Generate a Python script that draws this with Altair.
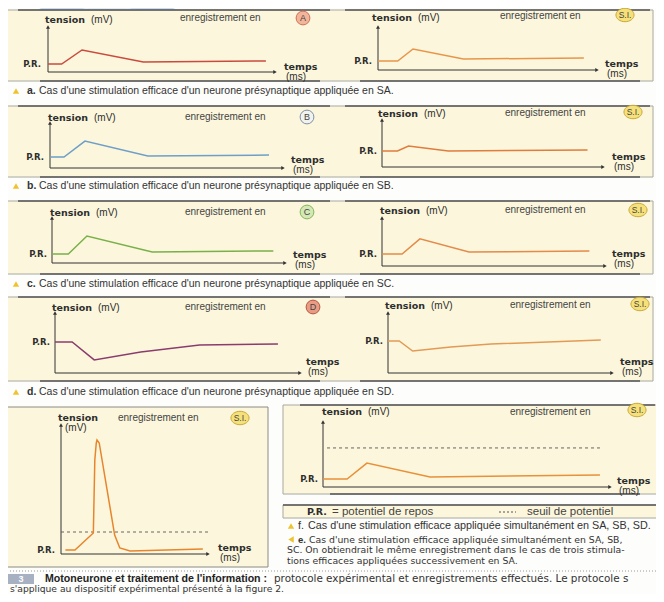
import altair as alt
import pandas as pd

FONT = "Liberation Sans"
BOLD_FONT = "DejaVu Sans"
O = 8          # page margin of the embedding page
PR = -70       # potentiel de repos (mV)
SEUIL = -55    # seuil de potentiel (mV)

# ---------------- data (time in ms, tension in mV) ----------------
aL_t = [0, 6, 15, 42, 96]
aL_v = [-70, -70, -65.0, -69.3, -68.9]
aR_t = [0, 9, 16, 39, 94]
aR_v = [-70, -70, -65.7, -69.3, -68.9]
bL_t = [0, 6, 15, 42, 94]
bL_v = [-70, -70, -64.3, -69.6, -69.3]
bR_t = [0, 7, 12, 30, 93]
bR_v = [-70, -70, -68.2, -70.0, -69.6]
cL_t = [0, 7, 15, 43, 95]
cL_v = [-70, -70, -63.6, -69.3, -68.9]
cR_t = [0, 9, 17, 39, 93]
cR_v = [-70, -70, -64.6, -69.3, -68.9]
dL_t = [0, 7, 16, 35, 59, 91]
dL_v = [-70, -70, -76.4, -73.6, -71.1, -70.7]
dR_t = [0, 5, 11, 28, 46, 95]
dR_v = [-70, -70, -73.6, -72.1, -71.1, -69.6]
eL_t = [3, 9.5, 22, 23, 24, 24.5, 26, 36.5, 40, 47, 96.5]
eL_v = [-70, -70, -55.8, 5, 19.2, 21.7, 19.2, -57.5, -68.3, -70.8, -69.2]
fR_t = [0, 8.4, 15.3, 37.3, 96.5]
fR_v = [-70, -70, -62.3, -69.0, -68.1]

site_fill = {"A": "#f3b59a", "B": "#f3f3ee", "C": "#d3e8b4", "D": "#e89c85", "S.I.": "#f6e07a"}
site_stroke = {"A": "#cf6f58", "B": "#7f8fa8", "C": "#86b45a", "D": "#b8553f", "S.I.": "#c7a93a"}

CAP_BODY = "Cas d'une stimulation efficace d'un neurone présynaptique appliquée en "
captions = [("a.", CAP_BODY + "SA."), ("b.", CAP_BODY + "SB."),
            ("c.", CAP_BODY + "SC."), ("d.", CAP_BODY + "SD.")]
cap_f = ("f.", "Cas d'une stimulation efficace appliquée simultanément en SA, SB, SD.")
cap_e = ("e.", "Cas d'une stimulation efficace appliquée simultanément en SA, SB,",
         "SC. On obtiendrait le même enregistrement dans le cas de trois stimula-",
         "tions efficaces appliquées successivement en SA.")
footer_bold = "Motoneurone et traitement de l'information :"
footer_1 = "protocole expérimental et enregistrements effectués. Le protocole s"
footer_2 = "s'applique au dispositif expérimental présenté à la figure 2."

# ---------------- layout (reference pixels) ----------------
PANELS = [
    dict(t=aL_t, v=aL_v, color="#c94b3e", site="A", ox=48, oy=72, xe=275, yt=27, pr=64, ky=2.8,
         ten=(45, 20), enr=(180, 18), circ=(303, 18), temps=(284, 67), prx=41),
    dict(t=aR_t, v=aR_v, color="#e8954a", site="S.I.", ox=378, oy=70, xe=597, yt=27, pr=61, ky=2.8,
         ten=(372, 18), enr=(500, 16), circ=(625, 15), temps=(605, 64), prx=372),
    dict(t=bL_t, v=bL_v, color="#6e9fc8", site="B", ox=50, oy=168, xe=283, yt=123, pr=157, ky=2.8,
         ten=(48, 118), enr=(185, 117), circ=(307, 117), temps=(291, 160), prx=44),
    dict(t=bR_t, v=bR_v, color="#e07c3c", site="S.I.", ox=382, oy=167, xe=603, yt=120, pr=151, ky=2.8,
         ten=(378, 114), enr=(505, 113), circ=(633, 112), temps=(612, 157), prx=377),
    dict(t=cL_t, v=cL_v, color="#7ab04a", site="C", ox=52, oy=263, xe=285, yt=218, pr=254, ky=2.8,
         ten=(50, 213), enr=(185, 212), circ=(307, 212), temps=(293, 255), prx=47),
    dict(t=cR_t, v=cR_v, color="#e48a4a", site="S.I.", ox=382, oy=266, xe=605, yt=218, pr=254, ky=2.8,
         ten=(380, 211), enr=(505, 210), circ=(638, 210), temps=(612, 254), prx=377),
    dict(t=dL_t, v=dL_v, color="#8b3c6e", site="D", ox=55, oy=373, xe=300, yt=313, pr=342, ky=2.8,
         ten=(52, 308), enr=(185, 307), circ=(313, 307), temps=(306, 362), prx=50),
    dict(t=dR_t, v=dR_v, color="#e39a55", site="S.I.", ox=388, oy=373, xe=612, yt=313, pr=341, ky=2.8,
         ten=(385, 306), enr=(510, 305), circ=(640, 304), temps=(620, 362), prx=383),
    dict(t=eL_t, v=eL_v, color="#e8852c", site="S.I.", ox=61, oy=554, xe=208, yt=425, pr=550, ky=1.2,
         ten=(58, 418), enr=(118, 418), circ=(240, 418), temps=(218, 548), prx=55,
         seuil=(0, 100), twoline=True),
    dict(t=fR_t, v=fR_v, color="#e8903a", site="S.I.", ox=323, oy=487, xe=610, yt=422, pr=479, ky=2.07,
         ten=(322, 412), enr=(510, 412), circ=(637, 410), temps=(617, 481), prx=318,
         seuil=(1.4, 96.5)),
]

CREAM = "#fcf7dc"
INK = "#2e2e2e"
ONE = alt.Data(values=[{"k": 0}])

layers = []


def text(s, x, y, size=9, weight="normal", color=INK, align="left", font=FONT):
    layers.append(alt.Chart(ONE).mark_text(
        text=s, fontSize=size, fontWeight=weight, color=color, align=align,
        baseline="middle", font=font).encode(x=alt.value(x - O), y=alt.value(y - O)))


def rect(x0, y0, x1, y1, fill, stroke=None, sw=1, dash=None):
    kw = dict(fill=fill, strokeWidth=sw)
    if stroke:
        kw["stroke"] = stroke
    if dash:
        kw["strokeDash"] = dash
    layers.append(alt.Chart(ONE).mark_rect(**kw).encode(
        x=alt.value(x0 - O), x2=alt.value(x1 - O), y=alt.value(y0 - O), y2=alt.value(y1 - O)))


def hline(x0, x1, y, color="#5a5a5a", sw=1.5, dash=None):
    kw = dict(color=color, strokeWidth=sw)
    if dash:
        kw["strokeDash"] = dash
    layers.append(alt.Chart(ONE).mark_rule(**kw).encode(
        x=alt.value(x0 - O), x2=alt.value(x1 - O), y=alt.value(y - O)))


def vline(x, y0, y1, color="#8a8a8a", sw=1, dash=None):
    kw = dict(color=color, strokeWidth=sw)
    if dash:
        kw["strokeDash"] = dash
    layers.append(alt.Chart(ONE).mark_rule(**kw).encode(
        x=alt.value(x - O), y=alt.value(y0 - O), y2=alt.value(y1 - O)))


def marker(x, y, shape, size, fill, stroke=None):
    kw = dict(shape=shape, size=size, filled=True, fill=fill, opacity=1)
    if stroke:
        kw.update(stroke=stroke, strokeWidth=1)
    layers.append(alt.Chart(ONE).mark_point(**kw).encode(x=alt.value(x - O), y=alt.value(y - O)))


# ---------------- decorative template swoosh (top-left) ----------------
layers.append(alt.Chart(ONE).mark_arc(color="#c9dcf3", opacity=1).encode(
    x=alt.value(107 - O), y=alt.value(167 - O),
    radius=alt.value(172), radius2=alt.value(160),
    theta=alt.value(5.2), theta2=alt.value(6.7)))
layers.append(alt.Chart(ONE).mark_arc(color="#dfeaf8", opacity=1).encode(
    x=alt.value(107 - O), y=alt.value(167 - O),
    radius=alt.value(160), radius2=alt.value(152),
    theta=alt.value(5.25), theta2=alt.value(6.6)))

# ---------------- page boxes ----------------
ROW_BOXES = [(6, 10, 653, 81), (6, 106, 653, 177), (6, 201, 653, 274), (6, 297, 653, 381)]
for (x0, y0, x1, y1) in ROW_BOXES:
    rect(x0, y0, x1, y1, CREAM, "#a8a8a0", 1)
    hline(18, 330, y0, "#555555", 1.6)
    hline(345, 650, y0, "#555555", 1.6)
    hline(40, 320, y1, "#555555", 1.6)
    hline(360, 640, y1, "#555555", 1.6)

rect(7, 407, 268, 567, CREAM, "#8a8a84", 1)
rect(283, 405, 662, 494, CREAM, "#a8a8a0", 1)
hline(300, 655, 405, "#555555", 1.6)
hline(330, 640, 494, "#555555", 1.6)
rect(283, 505, 662, 518, CREAM, "#a8a8a0", 1)
hline(283, 662, 505, "#555555", 1.4)
vline(4, 400, 571, "#9a9a9a", 1, [1, 2])
hline(4, 662, 571, "#9a9a9a", 1, [1, 2])

# ---------------- panels ----------------
ELLIPSE = "M-1.35,0A1.35,1,0,1,1,1.35,0A1.35,1,0,1,1,-1.35,0Z"

for p in PANELS:
    vmin = PR - (p["oy"] - p["pr"]) / p["ky"]
    vmax = PR + (p["pr"] - p["yt"]) / p["ky"]
    xs = alt.Scale(domain=[0, 100], range=[p["ox"] - O, p["xe"] - O], nice=False, zero=False)
    ys = alt.Scale(domain=[vmin, vmax], range=[p["oy"] - O, p["yt"] - O], nice=False, zero=False)

    # axes as arrows
    ax = pd.DataFrame({"t": [0, 0], "v": [vmin, vmin], "t2": [100, 0], "v2": [vmin, vmax]})
    layers.append(alt.Chart(ax).mark_rule(color="#333333", strokeWidth=1).encode(
        x=alt.X("t:Q", scale=xs, axis=None), y=alt.Y("v:Q", scale=ys, axis=None),
        x2="t2:Q", y2="v2:Q"))
    heads = pd.DataFrame({"t": [100, 0], "v": [vmin, vmax], "s": ["triangle-right", "triangle-up"]})
    layers.append(alt.Chart(heads).mark_point(filled=True, size=16, color="#333333", opacity=1).encode(
        x=alt.X("t:Q", scale=xs, axis=None), y=alt.Y("v:Q", scale=ys, axis=None),
        shape=alt.Shape("s:N", scale=None)))

    # threshold
    if "seuil" in p:
        th = pd.DataFrame({"t": [p["seuil"][0]], "t2": [p["seuil"][1]], "v": [SEUIL]})
        layers.append(alt.Chart(th).mark_rule(color="#555555", strokeWidth=0.9, strokeDash=[3, 3]).encode(
            x=alt.X("t:Q", scale=xs, axis=None), x2="t2:Q", y=alt.Y("v:Q", scale=ys, axis=None)))

    # recording
    df = pd.DataFrame({"t": p["t"], "v": p["v"]})
    layers.append(alt.Chart(df).mark_line(color=p["color"], strokeWidth=1.5).encode(
        x=alt.X("t:Q", scale=xs, axis=None), y=alt.Y("v:Q", scale=ys, axis=None)))

    # P.R. label on the resting level
    layers.append(alt.Chart(ONE).mark_text(
        text="P.R.", fontSize=8.5, fontWeight="bold", color=INK, align="right",
        baseline="middle", font=BOLD_FONT).encode(
        x=alt.value(p["prx"] - O), y=alt.Y(datum=PR, scale=ys, axis=None)))

    # axis titles
    tx, ty = p["ten"]
    text("tension", tx, ty, 9.5, "bold", INK, "left", BOLD_FONT)
    if p.get("twoline"):
        text("(mV)", tx + 7, ty + 10, 10)
    else:
        text("(mV)", tx + 46, ty, 10)
    mx, my = p["temps"]
    text("temps", mx, my, 9.5, "bold", INK, "left", BOLD_FONT)
    text("(ms)", mx + 2, my + 10, 10)

    # recording site
    ex, ey = p["enr"]
    text("enregistrement en", ex, ey, 10, "normal", "#444444")
    cx, cy = p["circ"]
    s = p["site"]
    if s == "S.I.":
        marker(cx, cy, ELLIPSE, 180, site_fill[s], site_stroke[s])
        text(s, cx, cy, 8.5, "normal", "#444444", "center")
    else:
        marker(cx, cy, "circle", 190, site_fill[s], site_stroke[s])
        text(s, cx, cy, 9, "normal", "#444444", "center")

# ---------------- captions ----------------
TRI = "#f0c22e"
for (lab, body), y in zip(captions, [91, 186, 284, 392]):
    marker(16, y, "triangle-up", 40, TRI)
    text(lab, 27, y, 10.5, "bold", "#333333")
    text(body, 39, y, 10.5, "normal", "#333333")

# legend strip
text("P.R.", 307, 512, 9.5, "bold", INK, "left", BOLD_FONT)
text("= potentiel de repos", 332, 512, 11.5, "normal", "#444444")
hline(499, 516, 512, "#555555", 1, [2, 2])
text("seuil de potentiel", 527, 512, 11.5, "normal", "#444444")

marker(291, 526, "triangle-up", 40, TRI)
text(cap_f[0], 298, 526, 10.8, "normal", "#333333")
text(cap_f[1], 308, 526, 10.8, "normal", "#333333")
marker(291, 539.5, "triangle-left", 40, TRI)
text(cap_e[0], 298, 539.5, 9.5, "bold", "#333333")
text(cap_e[1], 309, 539.5, 9.3, "normal", "#333333", "left", "DejaVu Sans")
text(cap_e[2], 287, 550, 9.3, "normal", "#333333", "left", "DejaVu Sans")
text(cap_e[3], 287, 560.5, 9.3, "normal", "#333333", "left", "DejaVu Sans")

# footer
rect(8, 574, 34, 584, "#a7b1c2")
text("3", 21, 579, 9, "bold", "#ffffff", "center")
text(footer_bold, 45, 579, 10.6, "bold", "#222222")
text(footer_1, 274, 579, 10.4, "normal", "#333333", "left", "DejaVu Sans")
text(footer_2, 10, 588.5, 9.2, "normal", "#333333", "left", "DejaVu Sans")

chart = alt.layer(*layers).resolve_scale(x="independent", y="independent").properties(
    width=648, height=586,
    autosize=alt.AutoSizeParams(type="none"),
    padding=0,
    background="#fdfdfb",
).configure_view(stroke=None)

chart.save("out.html", embed_options={"renderer": "svg", "actions": False})
